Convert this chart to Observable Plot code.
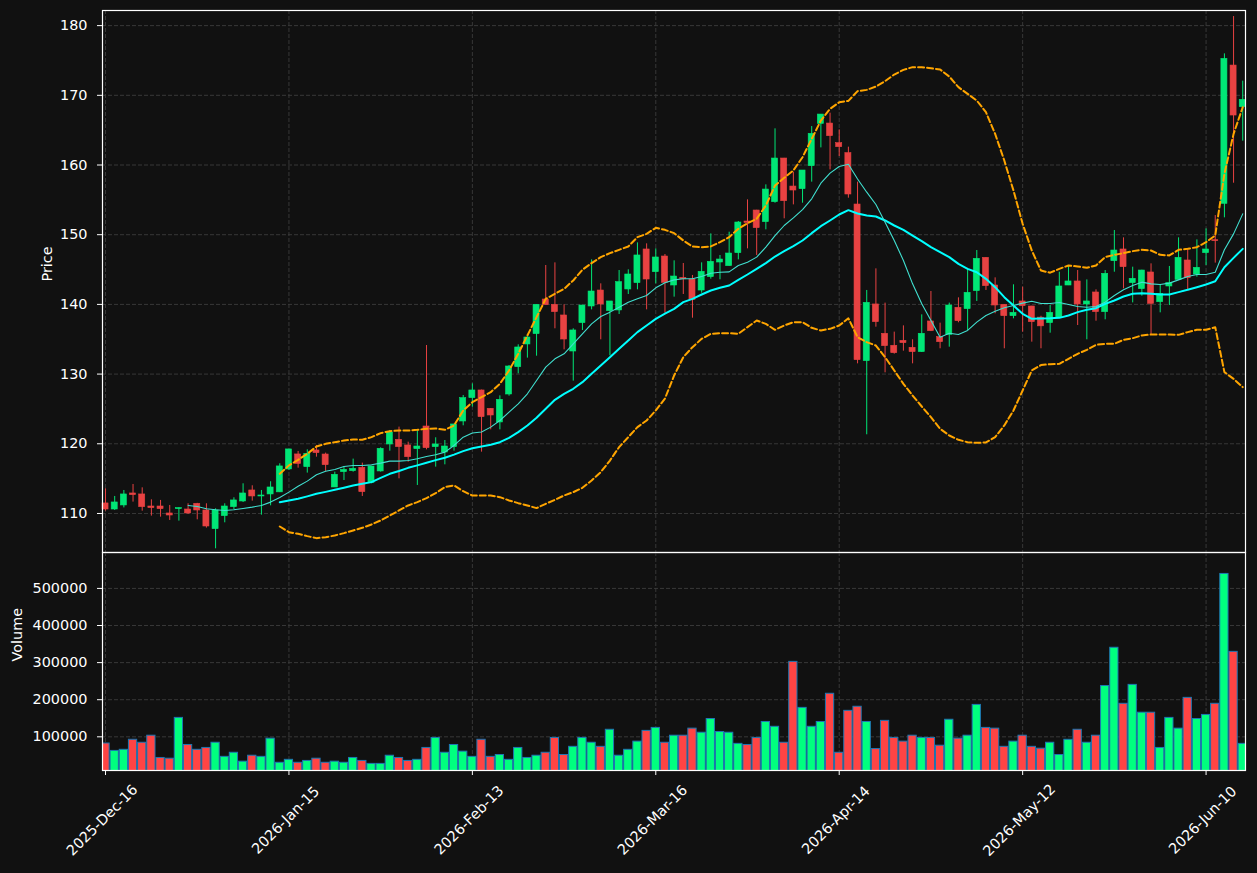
<!DOCTYPE html>
<html><head>
<meta charset="utf-8">
<script src="https://cdn.jsdelivr.net/npm/d3@7"></script>
<script src="https://cdn.jsdelivr.net/npm/@observablehq/plot@0.6"></script>
<style>
html,body{margin:0;padding:0;background:#111111;}
#chart{position:relative;width:1257px;height:873px;overflow:hidden;background:#111111;}
#chart > div{position:absolute;left:0;}
#chart svg{display:block;overflow:visible;}
</style>
</head><body><div id="chart"><div id="pricePanel" style="top:0"></div><div id="volPanel" style="top:552px"></div></div>
<script>
// ---- data ----
const opens = [111.44,110.57,111.15,112.87,112.73,111.00,111.00,110.00,110.62,110.57,111.39,110.43,107.75,109.62,110.91,111.72,113.30,112.44,112.73,113.03,
116.32,118.47,116.65,119.04,118.46,113.73,115.93,116.07,116.55,114.40,116.03,119.90,120.57,119.76,119.23,122.48,119.52,118.75,119.52,123.20,
126.55,127.65,125.02,123.06,127.07,130.99,134.25,135.73,140.70,139.94,138.41,133.24,137.31,139.70,141.99,139.03,139.13,142.14,143.05,147.88,
144.62,146.87,142.71,143.80,143.57,141.99,143.91,146.01,145.49,147.35,151.89,153.47,151.80,154.67,160.93,156.91,156.53,159.83,165.90,165.95,
163.13,161.70,154.33,131.86,139.99,135.78,134.06,134.77,133.77,133.15,137.55,135.30,135.63,139.51,139.32,141.90,146.68,142.71,139.94,138.31,
140.42,139.70,138.10,137.31,138.07,142.71,143.29,139.99,141.71,138.89,146.20,147.88,143.05,142.19,144.58,140.32,142.57,143.52,146.30,144.29,
147.35,149.21,154.43,174.27,168.30];
const highs = [113.54,112.44,113.30,114.16,113.68,111.96,111.87,111.15,110.81,111.39,111.45,111.39,110.67,111.39,112.25,114.26,113.97,113.30,114.55,117.13,
119.20,118.90,119.13,119.76,118.66,115.93,116.65,117.80,117.22,116.75,119.42,121.91,122.39,120.23,121.91,134.10,120.86,120.47,122.80,126.93,
128.60,127.70,125.05,126.88,131.23,134.20,135.63,139.95,145.58,145.96,139.94,136.50,139.85,146.39,142.95,140.42,144.86,144.96,148.83,148.69,
147.97,147.16,146.25,145.87,144.15,145.96,150.12,147.02,150.36,151.89,155.00,153.50,157.15,165.19,160.95,158.97,159.21,165.52,167.24,167.44,
165.04,162.56,157.54,142.00,145.10,140.18,136.02,136.92,134.92,138.50,141.85,137.31,140.18,140.94,145.10,147.73,146.70,143.81,139.95,142.81,
142.47,139.72,138.30,139.84,144.62,145.44,144.86,143.52,142.09,144.86,150.60,149.55,145.34,144.90,145.82,142.86,145.44,149.55,147.88,149.26,
150.84,152.75,175.95,181.30,172.03];
const lows = [110.33,110.43,110.80,111.63,110.33,109.62,109.47,109.00,108.90,109.86,109.09,107.90,104.93,108.66,110.53,111.58,111.77,109.76,111.10,113.00,
116.17,116.50,115.79,118.08,116.03,113.73,114.73,115.93,112.44,114.26,115.93,118.94,114.97,117.36,114.02,119.13,116.65,116.98,118.94,122.58,
125.26,118.80,122.00,122.00,126.83,130.04,132.29,132.57,139.89,136.50,133.48,128.99,136.26,139.22,134.92,132.62,138.55,141.42,142.09,139.22,
142.95,138.74,141.04,141.42,138.02,141.61,143.62,143.53,145.49,146.39,147.97,147.02,150.70,154.52,152.28,154.28,154.52,157.54,162.46,159.30,
161.22,155.24,131.47,121.29,136.73,130.18,132.86,133.29,131.47,133.10,136.10,133.63,133.86,137.36,136.26,140.42,142.00,138.65,133.63,137.93,
136.02,134.58,133.63,135.87,138.07,142.70,136.97,134.92,137.59,137.79,144.62,142.23,140.22,141.18,135.68,138.79,139.84,143.50,142.09,143.91,
145.58,145.92,152.42,157.39,163.42];
const closes = [110.57,111.58,112.73,112.63,110.91,110.77,110.62,109.71,110.77,110.00,110.43,108.13,110.43,111.00,111.87,112.87,112.44,112.58,113.73,116.75,
119.19,117.10,118.56,118.66,116.93,115.55,116.26,116.41,113.06,116.74,119.28,121.62,119.52,118.08,119.61,119.37,119.90,119.61,122.77,126.55,
127.65,123.82,124.06,126.31,131.09,133.82,135.25,139.94,139.89,138.89,134.96,136.26,139.84,141.85,139.99,140.42,143.19,144.29,147.02,143.57,
146.73,143.10,144.00,143.60,140.65,144.67,146.11,146.44,147.30,151.75,151.70,150.94,156.48,160.93,154.81,156.34,159.21,164.47,167.24,164.14,
162.56,155.77,132.00,140.22,137.45,134.01,133.00,134.44,133.15,135.78,136.16,134.58,139.84,137.59,141.66,146.54,142.62,139.84,138.31,138.79,
139.75,137.45,136.85,138.79,142.57,143.29,139.99,140.42,138.89,144.39,147.73,145.34,143.67,144.86,140.08,141.52,143.05,146.68,143.76,145.25,
147.88,149.07,175.23,167.10,169.35];
const volumes = [82000,62000,65000,92000,84000,103000,43000,41000,151000,78000,65000,70000,84000,46000,57000,33000,49000,46000,95000,30000,
38000,30000,35000,41000,30000,33000,30000,43000,35000,27000,27000,49000,43000,35000,38000,70000,97000,57000,78000,60000,
46000,92000,46000,51000,38000,70000,43000,49000,57000,97000,51000,73000,97000,84000,73000,119000,49000,65000,87000,116000,
124000,84000,103000,103000,122000,111000,148000,113000,111000,81000,78000,97000,140000,127000,84000,302000,178000,127000,140000,216000,
57000,170000,181000,140000,67000,143000,97000,87000,103000,97000,97000,76000,146000,95000,103000,186000,124000,122000,73000,87000,
103000,73000,68000,84000,51000,92000,119000,84000,103000,237000,340000,189000,240000,165000,165000,70000,151000,122000,205000,148000,
159000,189000,539000,329000,81000];
const ma10Start = 9;
const ma10 = [111.15,111.00,110.67,110.53,110.43,110.53,110.72,110.91,111.15,111.63,112.30,113.06,113.90,114.64,115.55,116.07,116.31,116.74,116.89,116.89,
116.98,117.22,117.51,117.51,117.60,117.84,118.18,118.42,118.80,119.76,120.95,121.55,121.70,122.39,123.34,124.54,125.73,127.17,129.08,130.99,
132.19,132.91,134.34,135.78,137.21,138.26,138.89,139.60,140.32,140.80,141.28,142.38,143.10,143.52,143.67,143.67,144.00,144.48,144.62,144.67,
145.58,146.06,146.78,148.21,149.88,151.32,152.42,153.61,155.15,157.39,158.83,159.78,160.10,158.00,156.10,154.33,151.80,149.17,146.30,142.95,
140.08,137.69,135.30,135.87,135.68,136.26,137.45,138.41,139.03,139.51,139.84,140.18,140.46,140.13,140.13,140.27,139.99,139.70,139.60,139.70,
140.32,141.28,142.09,142.71,143.19,142.95,142.86,143.05,143.52,144.00,144.29,144.29,144.62,147.83,150.12,152.99];
const ma20Start = 19;
const ma20 = [111.60,111.85,112.10,112.45,112.82,113.10,113.40,113.70,114.00,114.25,114.50,115.10,115.69,116.10,116.55,116.90,117.27,117.65,118.00,118.45,
118.94,119.35,119.60,119.85,120.23,120.86,121.67,122.63,123.73,125.02,126.31,127.17,127.89,128.84,130.04,131.23,132.43,133.62,134.82,136.02,
136.97,137.93,138.67,139.36,140.32,140.80,141.42,141.99,142.38,142.71,143.52,144.29,145.10,145.92,146.87,147.64,148.36,149.17,150.22,151.22,
152.04,152.90,153.52,153.04,152.75,152.61,152.04,151.32,150.70,149.88,149.07,148.21,147.49,146.78,145.82,145.10,144.62,143.67,142.47,141.04,
139.84,138.65,137.93,137.98,138.00,138.07,138.41,138.89,139.22,139.46,140.08,140.56,141.13,141.52,141.61,141.52,141.42,141.42,141.76,142.09,
142.47,142.86,143.33,145.34,146.68,147.97];
const bbUpper = [115.70,116.90,117.70,118.56,119.61,119.99,120.23,120.47,120.62,120.57,120.95,121.53,121.81,121.91,121.91,122.00,122.15,122.19,122.00,122.63,
124.78,125.97,126.69,127.41,128.60,130.52,132.91,135.54,138.17,140.80,141.52,142.23,143.43,144.96,145.92,146.78,147.35,147.83,148.31,149.65,
150.12,150.99,150.70,150.22,149.17,148.31,148.21,148.31,148.93,149.65,150.84,151.65,152.28,154.19,157.06,158.16,159.21,161.12,163.75,166.38,
168.06,169.01,169.20,170.60,170.78,171.26,172.03,172.98,173.65,174.04,174.04,173.89,173.70,172.70,171.17,170.21,169.25,167.58,164.47,160.64,
156.34,151.56,147.73,144.85,144.55,145.10,145.58,145.44,145.25,145.58,146.78,147.11,147.35,147.64,147.83,147.73,147.11,147.02,147.83,147.97,
148.21,148.93,149.88,158.73,164.47,168.30];
const bbLower = [108.13,107.32,107.08,106.75,106.46,106.60,106.84,107.18,107.56,107.94,108.42,109.00,109.71,110.43,111.15,111.63,112.20,112.92,113.78,114.02,
113.20,112.58,112.58,112.58,112.34,111.87,111.48,111.15,110.77,111.39,111.96,112.58,113.06,113.68,114.73,115.93,117.60,119.52,120.95,122.39,
123.34,124.78,126.50,129.80,132.43,133.86,135.06,135.78,135.87,135.87,135.78,136.73,137.69,137.21,136.35,136.97,137.45,137.45,136.64,136.26,
136.49,136.97,138.00,135.30,134.58,134.10,132.43,130.52,128.60,126.93,125.35,123.82,122.15,121.19,120.57,120.23,120.14,120.19,120.95,122.63,
124.78,127.65,130.52,131.30,131.42,131.47,132.19,132.91,133.48,134.20,134.34,134.34,134.92,135.15,135.54,135.68,135.68,135.68,135.63,136.02,
136.35,136.35,136.73,130.28,129.32,128.13];
const xTickIndex = [0,20,40,60,80,100,120];
const xTickLabels = ["2025-Dec-16","2026-Jan-15","2026-Feb-13","2026-Mar-16","2026-Apr-14","2026-May-12","2026-Jun-10"];
const priceTicks = [110,120,130,140,150,160,170,180];
const volumeTicks = [100000,200000,300000,400000,500000];

// ---- tables ----
const candles = opens.map((o, i) => ({i, open: o, high: highs[i], low: lows[i], close: closes[i], volume: volumes[i], up: closes[i] >= o}));
const series = (arr, start) => arr.map((v, k) => ({i: start + k, v}));
const ma10Rows = series(ma10, ma10Start);
const ma20Rows = series(ma20, ma20Start);
const upRows = series(bbUpper, ma20Start);
const loRows = series(bbLower, ma20Start);

const UP = "#00e676", DOWN = "#e84242", VUP = "#00ff7f", VDOWN = "#ff4444";
const GRID = {stroke: "#3c3c3c", strokeOpacity: 1, strokeDasharray: "4,2", strokeWidth: 0.9};
const xDomain = [-0.33, 124.3];
const FS = 14.4;
const font = {background: "transparent", color: "white", fontFamily: "'DejaVu Sans', sans-serif", fontSize: FS + "px", overflow: "visible"};

const priceChart = Plot.plot({
  width: 1257, height: 553,
  marginLeft: 102, marginRight: 12, marginTop: 10, marginBottom: 1,
  style: font,
  x: {type: "linear", domain: xDomain, axis: null},
  y: {domain: [104.4, 182.17], axis: null},
  marks: [
    Plot.gridY(priceTicks, GRID),
    Plot.gridX(xTickIndex, GRID),
    Plot.ruleX(candles, {x: "i", y1: "low", y2: "high", stroke: d => d.up ? UP : DOWN, strokeWidth: 1}),
    Plot.rect(candles, {x1: d => d.i - 0.33, x2: d => d.i + 0.33, y1: "open", y2: "close",
      fill: d => d.up ? UP : DOWN, stroke: d => d.up ? UP : DOWN, strokeWidth: 0.6}),
    Plot.line(ma20Rows, {x: "i", y: "v", stroke: "#00ffff", strokeWidth: 2}),
    Plot.line(ma10Rows, {x: "i", y: "v", stroke: "#40e0d0", strokeWidth: 1.1}),
    Plot.line(upRows, {x: "i", y: "v", stroke: "#ffa500", strokeWidth: 2, strokeDasharray: "6,3"}),
    Plot.line(loRows, {x: "i", y: "v", stroke: "#ffa500", strokeWidth: 2, strokeDasharray: "6,3"}),
    Plot.axisY({ticks: priceTicks, tickSize: 5, tickPadding: 10, label: null, fontSize: FS}),
    Plot.text(["Price"], {frameAnchor: "left", dx: -55, rotate: -90, text: d => d, fill: "white", fontSize: FS}),
    Plot.frame({stroke: "white", strokeWidth: 1.2})
  ]
});
document.getElementById("pricePanel").appendChild(priceChart);

const volChart = Plot.plot({
  width: 1257, height: 321,
  marginLeft: 102, marginRight: 12, marginTop: 0, marginBottom: 103,
  style: font,
  x: {type: "linear", domain: xDomain, axis: null},
  y: {domain: [9200, 596800], axis: null},
  marks: [
    Plot.gridY(volumeTicks, GRID),
    Plot.gridX(xTickIndex, GRID),
    Plot.rect(candles, {x1: d => d.i - 0.45, x2: d => d.i + 0.45, y1: 0, y2: "volume",
      fill: d => d.up ? VUP : VDOWN, stroke: "#1f77b4", strokeWidth: 1, clip: true}),
    Plot.axisY({ticks: volumeTicks, tickSize: 5, tickPadding: 10, label: null, tickFormat: d => String(d), fontSize: FS}),
    Plot.axisX({ticks: xTickIndex, tickSize: 5, tickFormat: () => "", label: null}),
    Plot.text(xTickIndex, {x: d => d, text: (d, k) => xTickLabels[k], frameAnchor: "bottom", dy: 53, rotate: -45, fill: "white", fontSize: FS}),
    Plot.text(["Volume"], {frameAnchor: "left", dx: -85, rotate: -90, text: d => d, fill: "white", fontSize: FS}),
    Plot.frame({stroke: "white", strokeWidth: 1.2})
  ]
});
document.getElementById("volPanel").appendChild(volChart);
</script>
</body></html>
